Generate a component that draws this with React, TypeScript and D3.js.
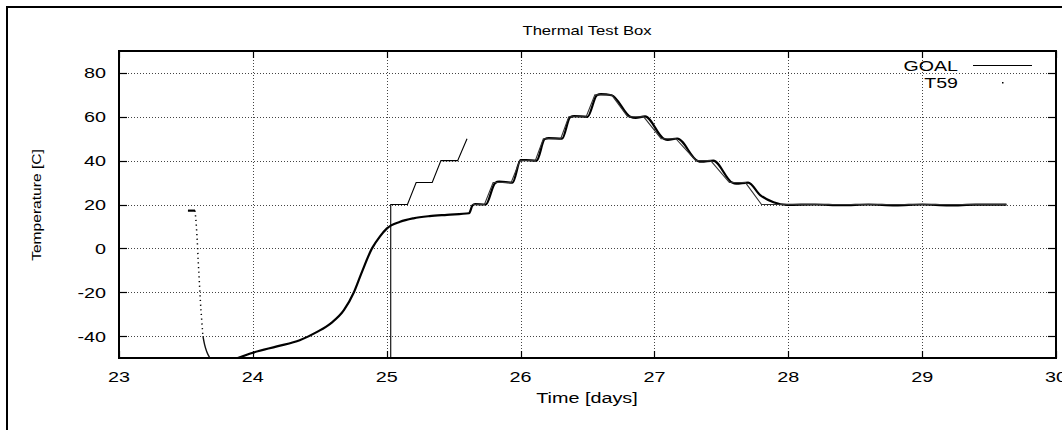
import React, { useEffect, useRef } from 'react';
import * as d3 from 'd3';

// axis ticks
const xTicks: number[] = [23, 24, 25, 26, 27, 28, 29, 30];
const yTicks: number[] = [-40, -20, 0, 20, 40, 60, 80];

// GOAL, first run (jumps up at ~25.03 days and stops at 50 C)
const goal1Days: number[] = [25.03, 25.03, 25.155, 25.22, 25.34, 25.405, 25.53, 25.6];
const goal1Temps: number[] = [-50, 20, 20, 30, 30, 40, 40, 50];

// GOAL, second run (up to 70 and back down to 20)
const goal2Days: number[] = [25.64, 25.73, 25.795, 25.93, 25.995, 26.11, 26.17, 26.3, 26.36, 26.49, 26.555, 26.68, 26.8, 26.92, 27.05, 27.16, 27.31, 27.42, 27.56, 27.68, 27.8, 29.63];
const goal2Temps: number[] = [20, 20, 30, 30, 40, 40, 50, 50, 60, 60, 70, 70, 60, 60, 50, 50, 40, 40, 30, 30, 20, 20];

// T59, early sparse samples (short flat piece then a fast drop)
const t59FlatDays: number[] = [23.515, 23.568];
const t59FlatTemps: number[] = [17.2, 17.2];
const t59DropDays: number[] = [23.568, 23.578, 23.585, 23.592, 23.6, 23.608, 23.617, 23.627];
const t59DropTemps: number[] = [17.2, 10, 3, -6, -15, -24, -32, -40];
const t59TailDays: number[] = [23.627, 23.64, 23.655, 23.67, 23.685];
const t59TailTemps: number[] = [-40, -44, -47, -49, -50.5];

// T59, main record
const t59Days: number[] = [23.865, 24.0, 24.18, 24.35, 24.48, 24.58, 24.68, 24.755, 24.81, 24.89, 24.95, 25.0, 25.1, 25.2, 25.32, 25.45, 25.615, 25.64, 25.66,
  25.74, 25.81, 25.84, 25.94, 26.0, 26.04, 26.12, 26.18, 26.21, 26.31, 26.37, 26.4, 26.5, 26.57, 26.6, 26.68,
  26.82, 26.86, 26.93, 27.07, 27.1, 27.17, 27.32, 27.35, 27.44, 27.58, 27.61, 27.7, 27.79, 27.89, 27.99,
  28.2, 28.4, 28.6, 28.8, 29.0, 29.2, 29.4, 29.63];
const t59Temps: number[] = [-50.5, -47.6, -44.7, -41.9, -38.1, -34.3, -28.2, -20.0, -11.5, 0.0, 5.5, 9.0, 12.1, 13.7, 14.7, 15.3, 16.0, 19.5, 20.2,
  20.0, 29.8, 30.4, 30.0, 40.2, 40.3, 40.0, 49.8, 50.3, 50.0, 59.8, 60.3, 60.0, 69.8, 70.3, 69.8,
  60.0, 59.5, 60.2, 50.0, 49.5, 50.1, 40.0, 39.5, 40.0, 30.0, 29.5, 30.0, 24.3, 21.0, 19.8,
  20.0, 19.7, 20.0, 19.6, 20.0, 19.6, 19.9, 19.9];

const FONT = '"Liberation Sans", Arial, Helvetica, sans-serif';

const left = 119, right = 1056, top = 51, bottom = 358;

let x_scale = d3.scaleLinear().domain([23, 30]).range([left, right]);
let y_scale = d3.scaleLinear().domain([-50, 90]).range([bottom, top]);

const zip = (xs: number[], ys: number[]) => xs.map((d, i) => [d, ys[i]] as [number, number]);

// the source glyphs are wide, so stretch them along the text direction
const wide = (x: number, y: number, sx: number, rot = 0) =>
  `translate(${x},${y})` + (rot ? ` rotate(${rot})` : '') + ` scale(${sx},1)`;

export default function App() {
  const ref = useRef<SVGSVGElement>(null);

  useEffect(() => {
    const svg = d3.select(ref.current);
    svg.selectAll('*').remove();

    svg.append('rect').attr('width', 1062).attr('height', 430).attr('fill', 'white');

    // outer page frame, runs off the right and bottom edge
    svg.append('rect')
      .attr('x', 7).attr('y', 7).attr('width', 1100).attr('height', 500)
      .attr('fill', 'none').attr('stroke', 'black').attr('stroke-width', 2);

    svg.append('clipPath').attr('id', 'plotclip')
      .append('rect').attr('x', left).attr('y', top).attr('width', right - left).attr('height', bottom - top);

    // grid
    const grid = svg.append('g').attr('stroke', '#444').attr('stroke-width', 1).attr('stroke-dasharray', '1,2');
    grid.selectAll('.gx').data(xTicks.filter(d => d > 23 && d < 30)).join('line')
      .attr('x1', d => Math.round(x_scale(d)) + 0.5).attr('x2', d => Math.round(x_scale(d)) + 0.5)
      .attr('y1', top).attr('y2', bottom);
    grid.selectAll('.gy').data(yTicks).join('line')
      .attr('y1', d => Math.round(y_scale(d)) + 0.5).attr('y2', d => Math.round(y_scale(d)) + 0.5)
      .attr('x1', left).attr('x2', right);

    // inward ticks on all four sides
    const ticks = svg.append('g').attr('stroke', 'black').attr('stroke-width', 1.2);
    xTicks.forEach(d => {
      const x = Math.round(x_scale(d)) + 0.5;
      ticks.append('line').attr('x1', x).attr('x2', x).attr('y1', bottom).attr('y2', bottom - 7);
      ticks.append('line').attr('x1', x).attr('x2', x).attr('y1', top).attr('y2', top + 7);
    });
    yTicks.forEach(d => {
      const y = Math.round(y_scale(d)) + 0.5;
      ticks.append('line').attr('y1', y).attr('y2', y).attr('x1', left).attr('x2', left + 8);
      ticks.append('line').attr('y1', y).attr('y2', y).attr('x1', right).attr('x2', right - 8);
    });

    const line = d3.line<[number, number]>()
      .x(d => x_scale(d[0])).y(d => y_scale(d[1]));
    const smooth = d3.line<[number, number]>()
      .x(d => x_scale(d[0])).y(d => y_scale(d[1])).curve(d3.curveMonotoneX);

    const plot = svg.append('g').attr('clip-path', 'url(#plotclip)').attr('fill', 'none');

    // T59
    plot.append('path').attr('d', line(zip(t59FlatDays, t59FlatTemps)))
      .attr('stroke', 'black').attr('stroke-width', 2.2);
    plot.append('path').attr('d', smooth(zip(t59DropDays, t59DropTemps)))
      .attr('stroke', '#000').attr('stroke-width', 1.5).attr('stroke-dasharray', '1.2,3.5');
    plot.append('path').attr('d', smooth(zip(t59TailDays, t59TailTemps)))
      .attr('stroke', '#111').attr('stroke-width', 1.4);
    plot.append('path').attr('d', smooth(zip(t59Days, t59Temps)))
      .attr('stroke', 'black').attr('stroke-width', 2.2).attr('stroke-linejoin', 'round');

    // GOAL
    plot.append('path').attr('d', line(zip(goal1Days, goal1Temps)))
      .attr('stroke', 'black').attr('stroke-width', 1.1);
    plot.append('path').attr('d', line(zip(goal2Days, goal2Temps)))
      .attr('stroke', '#333').attr('stroke-width', 1.1);

    // plot frame
    svg.append('rect')
      .attr('x', left).attr('y', top).attr('width', right - left).attr('height', bottom - top)
      .attr('fill', 'none').attr('stroke', 'black').attr('stroke-width', 2);

    const text = svg.append('g').attr('font-family', FONT).attr('fill', 'black');

    text.selectAll('.xl').data(xTicks).join('text')
      .attr('transform', d => wide(x_scale(d), 382, 1.32))
      .attr('text-anchor', 'middle').attr('font-size', 15)
      .text(d => d);
    text.selectAll('.yl').data(yTicks).join('text')
      .attr('transform', d => wide(106, y_scale(d) + 5.5, 1.32))
      .attr('text-anchor', 'end').attr('font-size', 15)
      .text(d => d);

    text.append('text').attr('transform', wide(587, 35, 1.28)).attr('text-anchor', 'middle')
      .attr('font-size', 13).text('Thermal Test Box');
    text.append('text').attr('transform', wide(587, 403, 1.32)).attr('text-anchor', 'middle')
      .attr('font-size', 15).text('Time [days]');
    text.append('text').attr('transform', wide(41, 205, 1.2, -90)).attr('text-anchor', 'middle')
      .attr('font-size', 13).text('Temperature [C]');

    // legend
    text.append('text').attr('transform', wide(958, 71, 1.4)).attr('text-anchor', 'end')
      .attr('font-size', 14).text('GOAL');
    text.append('text').attr('transform', wide(958, 88, 1.4)).attr('text-anchor', 'end')
      .attr('font-size', 14).text('T59');
    svg.append('line').attr('x1', 973).attr('x2', 1032).attr('y1', 65.5).attr('y2', 65.5)
      .attr('stroke', 'black').attr('stroke-width', 1);
    svg.append('rect').attr('x', 1002).attr('y', 82).attr('width', 1.5).attr('height', 1.5).attr('fill', 'black');
  }, []);

  return (
    <div style={{ position: 'fixed', left: 0, top: 0, width: 1062, height: 430, overflow: 'hidden', background: 'white' }}>
      <svg ref={ref} width={1062} height={430} style={{ display: 'block' }} />
    </div>
  );
}
